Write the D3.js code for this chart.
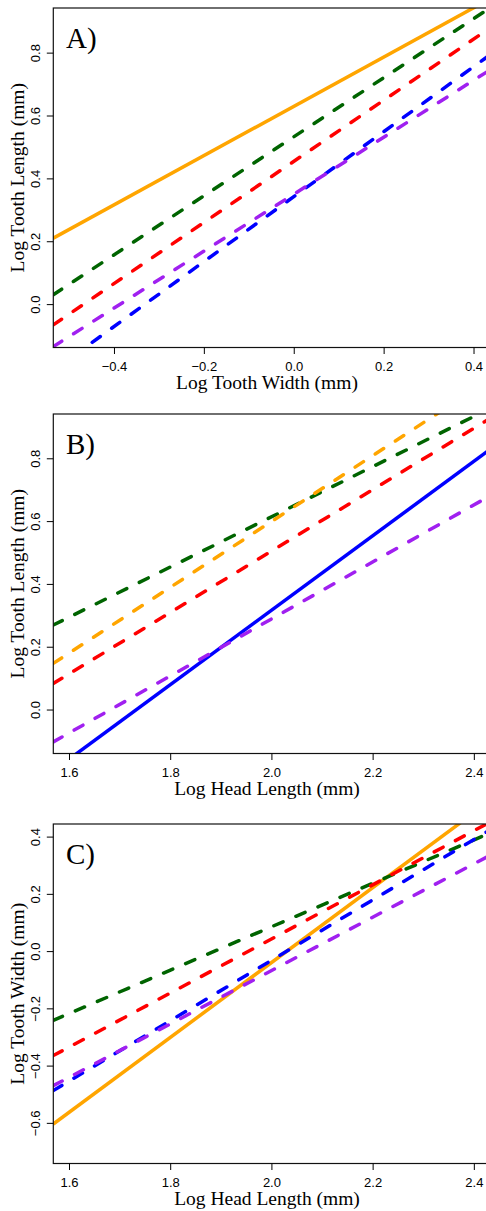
<!DOCTYPE html>
<html lang="en">
<head>
  <meta charset="UTF-8">
  <title>Log tooth and head measurements</title>
  <script src="https://d3js.org/d3.v7.min.js"></script>
  <style>
    body, html {
      margin: 0;
      padding: 0;
      background-color: #fff;
      overflow: hidden;
    }
    .tick text {
      font-family: 'Liberation Sans', Arial, sans-serif;
      font-size: 13px;
      fill: #000;
    }
    .tick line {
      stroke: #000;
    }
    .axis-title, .panel-tag {
      font-family: 'Liberation Serif', 'Times New Roman', serif;
      fill: #000;
    }
  </style>
</head>
<body>
  <svg id="chart"></svg>
  <script>
    const width = 486;
    const height = 1211;

    // panel setup
    const panelNames = ["A)", "B)", "C)"];
    const xTitles = ["Log Tooth Width (mm)", "Log Head Length (mm)", "Log Head Length (mm)"];
    const yTitles = ["Log Tooth Length (mm)", "Log Tooth Length (mm)", "Log Tooth Width (mm)"];
    const xDomains = [[-0.535, 0.43], [1.569, 2.426], [1.569, 2.426]];
    const yDomains = [[-0.138, 0.942], [-0.14, 0.941], [-0.742, 0.444]];
    const xTickValues = [[-0.4, -0.2, 0.0, 0.2, 0.4], [1.6, 1.8, 2.0, 2.2, 2.4], [1.6, 1.8, 2.0, 2.2, 2.4]];
    const yTickValues = [[0.0, 0.2, 0.4, 0.6, 0.8], [0.0, 0.2, 0.4, 0.6, 0.8], [-0.6, -0.4, -0.2, 0.0, 0.2, 0.4]];

    // fitted lines: [x0, y0, x1, y1] per group, dashed unless noted
    const groupColors = ["#FFA500", "#006400", "#FF0000", "#0000FF", "#A020F0"];
    const solidGroup = [0, 3, 0]; // index of the solid line in each panel
    const linesA = [
      [-0.535, 0.21, 0.43, 0.966],
      [-0.535, 0.03, 0.43, 0.936],
      [-0.535, -0.066, 0.43, 0.872],
      [-0.535, -0.211, 0.43, 0.786],
      [-0.535, -0.135, 0.43, 0.739]
    ];
    const linesB = [
      [1.569, 0.147, 2.426, 1.045],
      [1.569, 0.269, 2.426, 0.954],
      [1.569, 0.083, 2.426, 0.921],
      [1.569, -0.195, 2.426, 0.821],
      [1.569, -0.103, 2.426, 0.675]
    ];
    const linesC = [
      [1.569, -0.604, 2.426, 0.517],
      [1.569, -0.242, 2.426, 0.408],
      [1.569, -0.365, 2.426, 0.445],
      [1.569, -0.487, 2.426, 0.417],
      [1.569, -0.47, 2.426, 0.329]
    ];
    const panelLines = [linesA, linesB, linesC];

    const panelTops = [8, 414, 824];
    const plotLeft = 53.3;
    const plotRight = 487;
    const plotHeight = 339.5;

    const svg = d3.select("#chart")
      .attr("width", width)
      .attr("height", height);

    const fmt = d3.format(".1f");

    panelNames.forEach(function(name, i) {
      const top = panelTops[i];
      const bottom = top + plotHeight;

      const x = d3.scaleLinear().domain(xDomains[i]).range([plotLeft, plotRight]);
      const y = d3.scaleLinear().domain(yDomains[i]).range([bottom, top]);

      const g = svg.append("g");

      g.append("clipPath")
        .attr("id", "clip" + i)
        .append("rect")
        .attr("x", plotLeft)
        .attr("y", top)
        .attr("width", plotRight - plotLeft)
        .attr("height", plotHeight);

      // solid line first, dashed on top
      const order = [solidGroup[i]].concat([1, 2, 3, 4, 0].filter(k => k !== solidGroup[i]));
      const lineG = g.append("g").attr("clip-path", "url(#clip" + i + ")");
      order.forEach(function(k) {
        const d = panelLines[i][k];
        const solid = k === solidGroup[i];
        lineG.append("line")
          .attr("x1", x(d[0]))
          .attr("y1", y(d[1]))
          .attr("x2", x(d[2]))
          .attr("y2", y(d[3]))
          .attr("stroke", groupColors[k])
          .attr("stroke-width", 3.5)
          .attr("stroke-linecap", solid ? "butt" : "round")
          .attr("stroke-dasharray", solid ? null : "10,14");
      });

      // box
      g.append("rect")
        .attr("x", plotLeft)
        .attr("y", top)
        .attr("width", plotRight - plotLeft)
        .attr("height", plotHeight)
        .attr("fill", "none")
        .attr("stroke", "#111")
        .attr("stroke-width", 1.2);

      const xAxis = g.append("g")
        .attr("transform", "translate(0," + bottom + ")")
        .call(d3.axisBottom(x).tickValues(xTickValues[i]).tickSize(6.5).tickFormat(fmt));
      xAxis.select(".domain").remove();
      xAxis.selectAll("text").attr("y", 23).attr("dy", null);

      const yAxis = g.append("g")
        .attr("transform", "translate(" + plotLeft + ",0)")
        .call(d3.axisLeft(y).tickValues(yTickValues[i]).tickSize(6.5).tickFormat(fmt));
      yAxis.select(".domain").remove();
      yAxis.selectAll("text")
        .attr("x", null)
        .attr("dy", null)
        .attr("text-anchor", "middle")
        .attr("transform", "translate(-13,0) rotate(-90)");

      g.append("text")
        .attr("class", "axis-title")
        .attr("x", 267)
        .attr("y", bottom + 41.3)
        .attr("text-anchor", "middle")
        .style("font-size", "19.5px")
        .text(xTitles[i]);

      g.append("text")
        .attr("class", "axis-title")
        .attr("text-anchor", "middle")
        .attr("transform", "translate(24," + (top + plotHeight / 2) + ") rotate(-90)")
        .style("font-size", "19.5px")
        .text(yTitles[i]);

      g.append("text")
        .attr("class", "panel-tag")
        .attr("x", 66)
        .attr("y", top + 40)
        .style("font-size", "29px")
        .text(name);
    });
  </script>
</body>
</html>
